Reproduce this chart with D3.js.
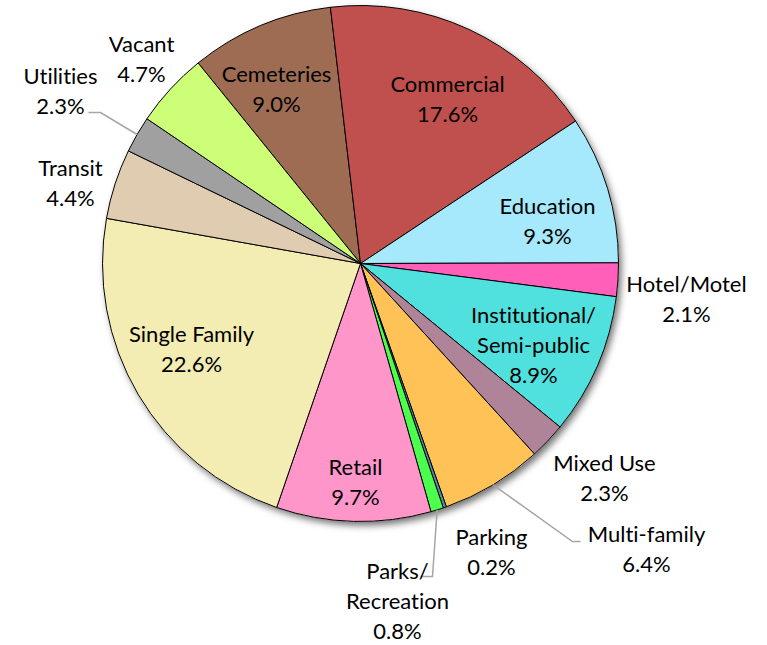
<!DOCTYPE html>
<html>
<head>
<meta charset="utf-8">
<script src="https://cdn.jsdelivr.net/npm/d3@7"></script>
<style>
  html, body { margin: 0; padding: 0; background: #ffffff; }
  svg { display: block; }
  text { font-family: Lato, "Open Sans", sans-serif; fill: #000; font-variant-ligatures: none; }
</style>
</head>
<body>
<svg id="chart" width="767" height="645"></svg>
<script>
// ---- data ----
const categories = ["Cemeteries", "Commercial", "Education", "Hotel/Motel", "Institutional/Semi-public",
  "Mixed Use", "Multi-family", "Parking", "Parks/Recreation", "Retail", "Single Family",
  "Transit", "Utilities", "Vacant"];
const values = [9.0, 17.6, 9.3, 2.1, 8.9, 2.3, 6.4, 0.2, 0.8, 9.7, 22.6, 4.4, 2.3, 4.7];
const labelLines = [["Cemeteries"], ["Commercial"], ["Education"], ["Hotel/Motel"],
  ["Institutional/", "Semi-public"], ["Mixed Use"], ["Multi-family"], ["Parking"],
  ["Parks/", "Recreation"], ["Retail"], ["Single Family"], ["Transit"], ["Utilities"], ["Vacant"]];
const colors = ["#9e6c52", "#c0504d", "#a6e9fc", "#ff5fb9", "#50e0dd", "#b08498", "#ffc257",
  "#4f8faa", "#4dff4d", "#ff96c9", "#f3ecb3", "#e0ccb0", "#a0a0a0", "#ccff77"];

// ---- layout (label anchors relative to pie centre; leader bends) ----
const labelPos = [
  [-84, -174], [87, -164], [187, -42], [326, 36], [173, 82], [244, 215], [286, 286],
  [131, 289], [37, 338], [-5, 219], [-169, 86], [-290, -80], [-300, -172], [-219, -204]
];
// leader: [bendX, bendY, endX, endY] relative to centre
const leaders = {
  12: [-260, -151, -272, -151],
  6: [212, 278, 220, 278],
  8: [72, 313, 60, 313]
};

const cx = 360.5, cy = 263.5, R = 258;
const lineH = 30;

const svg = d3.select("#chart");
const defs = svg.append("defs");
const f = defs.append("filter").attr("id", "shadow")
  .attr("x", "-20%").attr("y", "-20%").attr("width", "140%").attr("height", "140%");
f.append("feDropShadow").attr("dx", 3).attr("dy", 4).attr("stdDeviation", 3.5)
  .attr("flood-color", "#000").attr("flood-opacity", 0.55);

const g = svg.append("g").attr("transform", `translate(${cx},${cy})`);

const startA = -39 * Math.PI / 180;
const pie = d3.pie().sort(null).value(d => d).startAngle(startA).endAngle(startA + 2 * Math.PI);
const arcs = pie(values);
const arc = d3.arc().innerRadius(0).outerRadius(R);

g.append("circle").attr("r", R).attr("fill", "#fff").attr("filter", "url(#shadow)");

g.selectAll("path.slice").data(arcs).enter().append("path")
  .attr("class", "slice")
  .attr("d", arc)
  .attr("fill", (d, i) => colors[i])
  .attr("stroke", "#000")
  .attr("stroke-width", 1)
  .attr("stroke-linejoin", "round");

// leader lines
Object.keys(leaders).forEach(k => {
  const i = +k;
  const a = (arcs[i].startAngle + arcs[i].endAngle) / 2;
  const p0 = [R * Math.sin(a), -R * Math.cos(a)];
  const L = leaders[k];
  g.append("polyline")
    .attr("points", [p0, [L[0], L[1]], [L[2], L[3]]].map(p => p.join(",")).join(" "))
    .attr("fill", "none").attr("stroke", "#a6a6a6").attr("stroke-width", 1.5);
});

// labels
const fmt = v => v.toFixed(1) + "%";
arcs.forEach((d, i) => {
  const lines = labelLines[i].concat([fmt(values[i])]);
  const [lx, ly] = labelPos[i];
  const t = g.append("text")
    .attr("text-anchor", "middle")
    .attr("font-size", 22)
    .attr("transform", `translate(${lx},${ly})`);
  const n = lines.length;
  lines.forEach((s, j) => {
    t.append("tspan")
      .attr("x", 0)
      .attr("y", (j - (n - 1) / 2) * lineH)
      .attr("dy", "0.35em")
      .text(s);
  });
});
</script>
</body>
</html>
